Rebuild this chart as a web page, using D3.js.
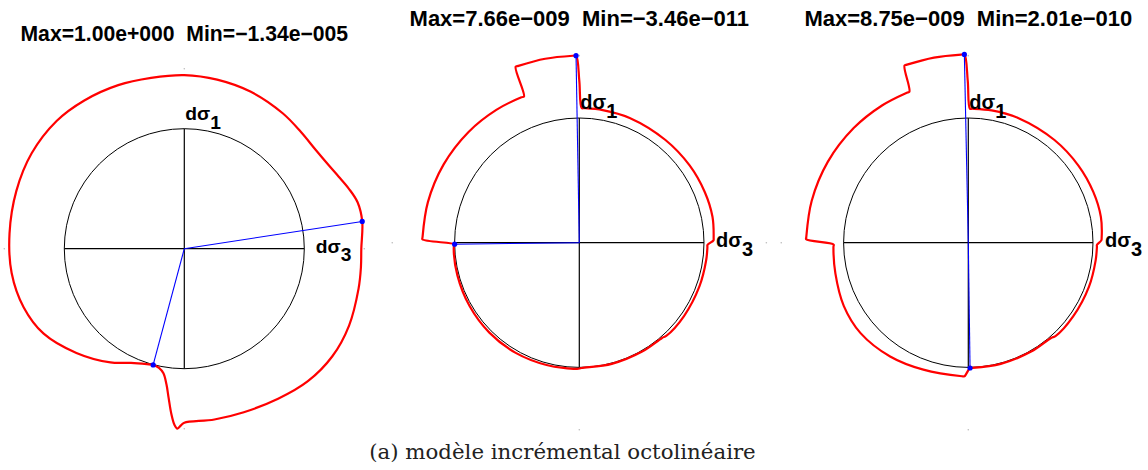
<!DOCTYPE html>
<html>
<head>
<meta charset="utf-8">
<script src="https://cdn.jsdelivr.net/npm/d3@7/dist/d3.min.js"></script>
<style>
    body { margin: 0; background: #fff; }
    text { white-space: pre; }
</style>
</head>
<body>
<svg id="chart"></svg>
<script>
// angles in degrees, counter-clockwise from the d-sigma-3 axis; radii relative to the unit circle
var titles = [
    "Max=1.00e+000  Min=\u22121.34e\u2212005",
    "Max=7.66e\u2212009  Min=\u22123.46e\u2212011",
    "Max=8.75e\u2212009  Min=2.01e\u2212010"
];
var caption = "(a) mod\u00e8le incr\u00e9mental octolin\u00e9aire";

var angles1 = [0, 8.7, 15, 20, 25, 30, 37, 45, 54, 67, 79, 90, 101, 112, 124, 135, 148, 161, 175, 188,
    200, 211, 224, 237, 245, 252, 255, 258, 260.5, 262.5, 264, 265.5, 266.8, 267.8, 269, 270,
    280, 290, 302, 313, 324, 335, 347, 354];
var radii1 = [1.475, 1.50, 1.495, 1.46, 1.42, 1.39, 1.37, 1.375, 1.395, 1.42, 1.435, 1.447, 1.45, 1.47,
    1.49, 1.505, 1.50, 1.48, 1.462, 1.453, 1.425, 1.37, 1.25, 1.13, 1.05, 1.012, 1.003, 1.015, 1.053,
    1.14, 1.25, 1.38, 1.47, 1.50, 1.47, 1.45, 1.445, 1.45, 1.475, 1.51, 1.525, 1.515, 1.49, 1.48];

var angles2 = [1, 2, 11, 22, 35, 50, 68, 80, 88, 89, 90, 91, 92, 100.5, 109, 109.9, 110.7, 111.7, 122,
    135, 150, 165, 178, 178.8, 180.7, 181.2, 182.5, 195, 210, 225, 240, 255, 269, 271, 285, 300, 311,
    313, 325, 340, 352, 358, 359];
var radii2 = [1.076, 1.078, 1.088, 1.085, 1.08, 1.075, 1.079, 1.08, 1.08, 1.08, 1.3, 1.5, 1.5, 1.5, 1.5,
    1.5, 1.254, 1.255, 1.256, 1.256, 1.256, 1.257, 1.258, 1.258, 1.0, 1.004, 1.008, 1.012, 1.016, 1.02,
    1.02, 1.015, 1.012, 1.005, 1.006, 1.008, 1.012, 1.022, 1.025, 1.025, 1.027, 1.028, 1.028];

var angles3 = [1, 2, 11, 22, 35, 50, 68, 80, 88.3, 89.3, 90.2, 91.2, 92.2, 100.5, 109, 109.8, 111.3,
    112.3, 122, 135, 150, 165, 178, 178.8, 180.8, 181.8, 193, 207, 220, 235.5, 250.5, 267.3, 268.3,
    270.8, 271.8, 285, 300, 311, 313, 325, 340, 352, 358, 359];
var radii3 = [1.067, 1.07, 1.083, 1.082, 1.078, 1.075, 1.077, 1.077, 1.075, 1.075, 1.3, 1.51, 1.51,
    1.51, 1.51, 1.51, 1.30, 1.30, 1.30, 1.30, 1.30, 1.30, 1.30, 1.30, 1.08, 1.082, 1.094, 1.12, 1.128,
    1.107, 1.08, 1.072, 1.072, 1.005, 1.005, 1.006, 1.008, 1.012, 1.025, 1.028, 1.03, 1.031, 1.032,
    1.032];

// extreme directions (blue)
var extremeAngles = [[8.7, 255], [91, 180.7], [91.2, 270.8]];
var extremeRadii = [[1.50, 1.003], [1.5, 1.0], [1.51, 1.005]];

// plot limits marked on the axes
var limitAngles = [0, 90, 180, 270];
var limitRadius = 1.5;

var width = 1148,
    height = 470;

var svg = d3.select("#chart")
    .attr("width", width)
    .attr("height", height)
    .style("font-family", "'Liberation Sans', Arial, Helvetica, sans-serif");

var panels = [
    { cx: 184.3, cy: 248.7, R: 120, k: 0.962, titleY: 40.7, a: angles1, r: radii1 },
    { cx: 579.3, cy: 242.7, R: 124.7, k: 1, titleY: 26, a: angles2, r: radii2 },
    { cx: 968.3, cy: 242.7, R: 124.7, k: 1, titleY: 26, a: angles3, r: radii3 }
];

function toRad(deg) {
    return (90 - deg) * Math.PI / 180;
}

panels.forEach(function(p, i) {
    var rScale = d3.scaleLinear().domain([0, 1]).range([0, p.R]);
    var g = svg.append("g").attr("transform", "translate(" + p.cx + "," + p.cy + ")");

    // limit marks
    g.selectAll("circle.limit").data(limitAngles).enter()
        .append("circle")
        .attr("class", "limit")
        .attr("cx", function(d) { return rScale(limitRadius) * Math.sin(toRad(d)); })
        .attr("cy", function(d) { return -rScale(limitRadius) * Math.cos(toRad(d)); })
        .attr("r", 0.8)
        .attr("fill", "#bbb");

    // unit circle and axes
    g.append("circle")
        .attr("r", rScale(1))
        .attr("fill", "none")
        .attr("stroke", "#000")
        .attr("stroke-width", 1);
    g.append("line")
        .attr("x1", -rScale(1)).attr("x2", rScale(1))
        .attr("stroke", "#000").attr("stroke-width", 1.2);
    g.append("line")
        .attr("y1", -rScale(1)).attr("y2", rScale(1))
        .attr("stroke", "#000").attr("stroke-width", 1.2);

    // response curve
    var pts = d3.zip(p.a, p.r);
    var radial = d3.lineRadial()
        .angle(function(d) { return toRad(d[0]); })
        .radius(function(d) { return rScale(d[1]); })
        .curve(d3.curveCatmullRomClosed.alpha(0.5));
    g.append("path")
        .attr("d", radial(pts))
        .attr("fill", "none")
        .attr("stroke", "#f00")
        .attr("stroke-width", 2.2)
        .attr("stroke-linejoin", "round");

    // extreme directions
    var ext = d3.zip(extremeAngles[i], extremeRadii[i]);
    g.selectAll("line.ext").data(ext).enter()
        .append("line")
        .attr("class", "ext")
        .attr("x2", function(d) { return rScale(d[1]) * Math.sin(toRad(d[0])); })
        .attr("y2", function(d) { return -rScale(d[1]) * Math.cos(toRad(d[0])); })
        .attr("stroke", "#00f")
        .attr("stroke-width", 1.1);
    g.selectAll("circle.ext").data(ext).enter()
        .append("circle")
        .attr("class", "ext")
        .attr("cx", function(d) { return rScale(d[1]) * Math.sin(toRad(d[0])); })
        .attr("cy", function(d) { return -rScale(d[1]) * Math.cos(toRad(d[0])); })
        .attr("r", 2.6)
        .attr("fill", "#00f");

    // axis labels
    var fs = 20 * p.k;
    var l1 = g.append("text")
        .attr("x", 1 * p.k)
        .attr("y", -rScale(1) - 9 * p.k)
        .attr("font-size", fs)
        .attr("font-weight", "bold");
    l1.append("tspan").text("d\u03c3");
    l1.append("tspan").attr("dy", 9 * p.k).text("1");

    var l3 = g.append("text")
        .attr("x", rScale(1) + 12 * p.k)
        .attr("y", 4 * p.k)
        .attr("font-size", fs)
        .attr("font-weight", "bold");
    l3.append("tspan").text("d\u03c3");
    l3.append("tspan").attr("dy", 9 * p.k).text("3");

    // title
    svg.append("text")
        .attr("x", p.cx)
        .attr("y", p.titleY)
        .attr("text-anchor", "middle")
        .attr("font-size", 22 * p.k)
        .attr("font-weight", "bold")
        .text(titles[i]);
});

svg.append("text")
    .attr("x", 562.5)
    .attr("y", 459)
    .attr("text-anchor", "middle")
    .attr("font-family", "'DejaVu Serif', serif")
    .attr("font-size", 21.3)
    .attr("fill", "#222")
    .text(caption);
</script>
</body>
</html>
